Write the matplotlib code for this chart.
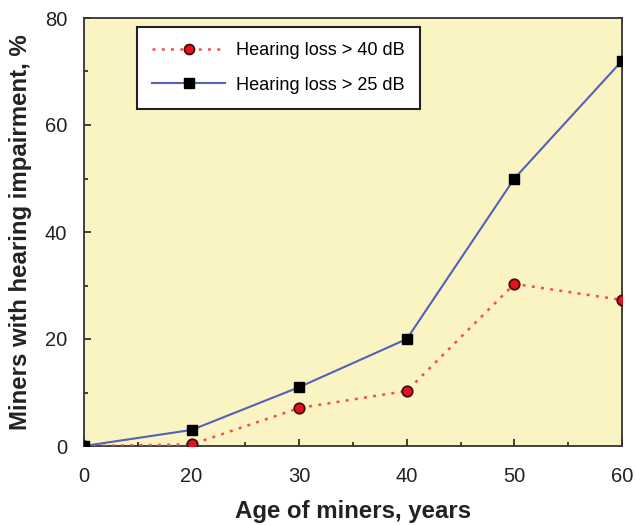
import matplotlib
matplotlib.use("Agg")
import matplotlib.pyplot as plt
from matplotlib.ticker import FixedLocator, MultipleLocator

plt.rcParams['font.family'] = ['Liberation Sans', 'DejaVu Sans']

age_labels = ["0", "20", "30", "40", "50", "60"]
loss40 = [0, 0.3, 7.1, 10.3, 30.3, 27.3]
loss25 = [0, 3.0, 11.0, 20.0, 50.0, 72.0]
y_ticks = [0, 20, 40, 60, 80]

x = list(range(len(age_labels)))

fig = plt.figure(figsize=(6.36, 5.25), dpi=100)
ax = fig.add_axes([84/636, 1-446/525, (622-84)/636, (446-18)/525])
ax.set_facecolor('#FAF4C2')

ax.plot(x, loss40, linestyle=(0, (1.2, 2.5)), color='#F05050', linewidth=1.8,
        marker='o', markersize=7.5, markerfacecolor='#E8101E', markeredgecolor='#3a1010',
        markeredgewidth=1.3, label='Hearing loss > 40 dB', zorder=3)
ax.plot(x, loss25, linestyle='-', color='#5560B8', linewidth=1.5,
        marker='s', markersize=7.5, markerfacecolor='black', markeredgecolor='black',
        label='Hearing loss > 25 dB', zorder=4)

ax.set_xlim(0, 5)
ax.set_ylim(0, 80)
ax.set_xticks(x)
ax.set_xticklabels(age_labels)
ax.xaxis.set_minor_locator(FixedLocator([i + 0.5 for i in range(5)]))
ax.set_yticks(y_ticks)
ax.yaxis.set_minor_locator(MultipleLocator(10))
ax.tick_params(axis='both', which='both', direction='in', labelsize=14.5, colors='#222222')
ax.tick_params(axis='both', which='major', length=5, width=1.2)
ax.tick_params(axis='x', which='major', pad=15)
ax.tick_params(axis='y', which='major', pad=12)
ax.tick_params(axis='both', which='minor', length=3, width=1.2)
for s in ax.spines.values():
    s.set_linewidth(1.3)
    s.set_color('#333333')
for lbl in ax.get_xticklabels() + ax.get_yticklabels():
    lbl.set_color('#222222')

ax.set_xlabel('Age of miners, years', fontsize=17.3, fontweight='bold', labelpad=10, color='#222222')
ax.set_ylabel('Miners with hearing impairment, %', fontsize=17.3, fontweight='bold', labelpad=9, color='#222222')

leg = ax.legend(loc='upper left', bbox_to_anchor=(0.0985, 0.979), borderaxespad=0, fontsize=13.1,
                frameon=True, fancybox=False, edgecolor='#222222', framealpha=1,
                borderpad=0.85, handlelength=4.0, labelspacing=0.95, handletextpad=0.6,
                markerscale=0.95)
leg.get_frame().set_linewidth(1.5)

fig.savefig('out.png', dpi=100)
